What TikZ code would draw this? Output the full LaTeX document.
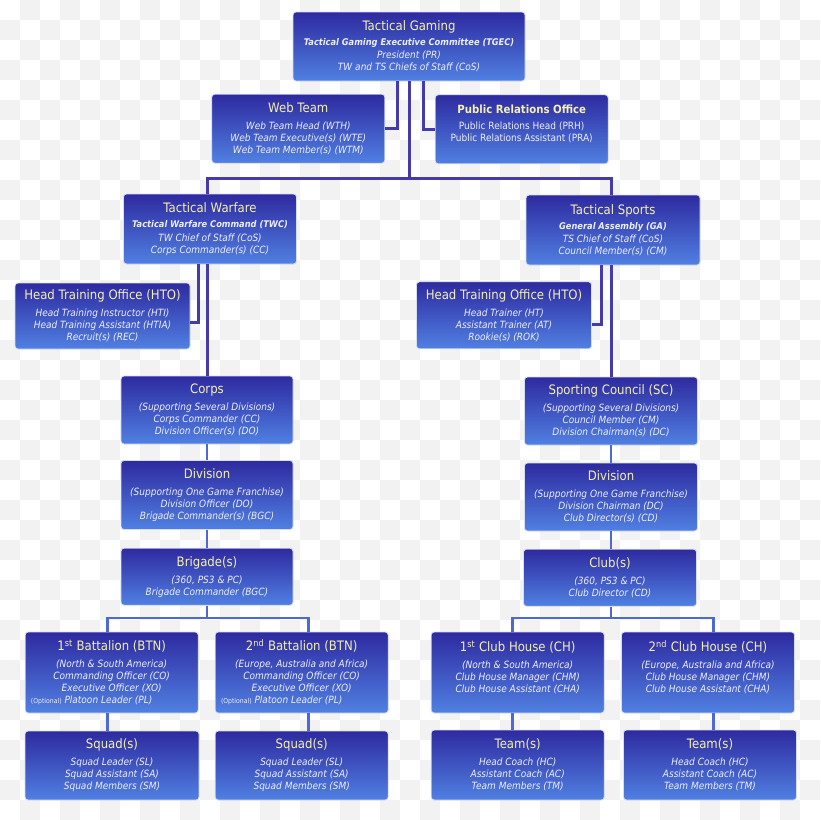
\documentclass[tikz,border=0pt]{standalone}
\usepackage{fontspec}
\setmainfont[FakeStretch=0.9]{DejaVu Sans}
\definecolor{boxtop}{RGB}{46,42,160}
\definecolor{boxbot}{RGB}{80,128,226}
\definecolor{boxedge}{RGB}{215,220,245}
\definecolor{ttlc}{RGB}{245,240,180}
\definecolor{txtc}{RGB}{238,238,250}
\definecolor{connA}{RGB}{68,58,168}
\definecolor{connB}{RGB}{78,105,210}
\definecolor{chk}{RGB}{242,242,242}
\newcommand{\ttl}[1]{{\fontsize{13}{12}\selectfont\upshape\color{ttlc}#1}}
\newcommand{\bsub}[1]{{\fontsize{9.2}{12}\selectfont\bfseries #1}}
\newcommand{\optl}{\makebox[0pt]{\kern-40pt{\fontsize{6.8}{7}\selectfont\upshape(Optional)} Platoon Leader (PL)}}
\tikzset{
  box/.style={rectangle, rounded corners=3pt, top color=boxtop, bottom color=boxbot,
    draw=boxedge, line width=0.8pt, align=center, inner sep=2pt, text=txtc,
    font=\fontsize{10}{12}\selectfont\itshape},
  connup/.style={draw=connA, line width=3pt},
  connlo/.style={draw=connB, line width=2.8pt}
}
\begin{document}
\begin{tikzpicture}[x=1pt,y=-1pt]
\useasboundingbox (0,0) rectangle (820,820);
\fill[white] (0,0) rectangle (820,820);
\foreach \i in {0,...,40}{\foreach \j in {0,...,40}{%
  \pgfmathtruncatemacro{\odd}{mod(\i+\j,2)}%
  \ifnum\odd=1 \fill[chk] (\i*20,\j*20) rectangle ++(20,20);\fi}}

% boxes
\node[box, minimum width=232pt, minimum height=69pt] (top) at (409,46.5)
  {\ttl{Tactical Gaming}\\[3pt]\bsub{Tactical Gaming Executive Committee (TGEC)}\\[1.3pt]President (PR)\\TW and TS Chiefs of Staff (CoS)};
\node[box, minimum width=173pt, minimum height=69pt] (web) at (298.3,128.7)
  {\ttl{Web Team}\\[5pt]Web Team Head (WTH)\\Web Team Executive(s) (WTE)\\Web Team Member(s) (WTM)};
\node[box, minimum width=173pt, minimum height=69pt] (pr) at (521.7,129.3)
  {{\fontsize{11.3}{12}\selectfont\upshape\bfseries\color{ttlc}Public Relations Office}\\[4pt]\upshape Public Relations Head (PRH)\\\upshape Public Relations Assistant (PRA)\\ \mbox{}};
\node[box, minimum width=173pt, minimum height=70pt] (tw) at (210,229)
  {\ttl{Tactical Warfare}\\[3pt]\bsub{Tactical Warfare Command (TWC)}\\[1.3pt]TW Chief of Staff (CoS)\\Corps Commander(s) (CC)};
\node[box, minimum width=174pt, minimum height=70pt] (ts) at (613,230)
  {\ttl{Tactical Sports}\\[3pt]\bsub{General Assembly (GA)}\\[1.3pt]TS Chief of Staff (CoS)\\Council Member(s) (CM)};
\node[box, minimum width=175pt, minimum height=66pt] (htoL) at (102.5,316)
  {\ttl{Head Training Office (HTO)}\\[5pt]Head Training Instructor (HTI)\\Head Training Assistant (HTIA)\\Recruit(s) (REC)};
\node[box, minimum width=175pt, minimum height=67pt] (htoR) at (504,315.3)
  {\ttl{Head Training Office (HTO)}\\[5pt]Head Trainer (HT)\\Assistant Trainer (AT)\\Rookie(s) (ROK)};
\node[box, minimum width=172pt, minimum height=68pt] (corps) at (207,410)
  {\ttl{Corps}\\[5pt](Supporting Several Divisions)\\Corps Commander (CC)\\Division Officer(s) (DO)};
\node[box, minimum width=172pt, minimum height=69pt] (divL) at (207,495)
  {\ttl{Division}\\[5pt](Supporting One Game Franchise)\\Division Officer (DO)\\Brigade Commander(s) (BGC)};
\node[box, minimum width=172pt, minimum height=57pt] (brig) at (207,576.7)
  {\ttl{Brigade(s)}\\[5pt](360, PS3 \& PC)\\Brigade Commander (BGC)};
\node[box, minimum width=173pt, minimum height=68pt] (sc) at (611,411)
  {\ttl{Sporting Council (SC)}\\[5pt](Supporting Several Divisions)\\Council Member (CM)\\Division Chairman(s) (DC)};
\node[box, minimum width=173pt, minimum height=68pt] (divR) at (611,497)
  {\ttl{Division}\\[5pt](Supporting One Game Franchise)\\Division Chairman (DC)\\Club Director(s) (CD)};
\node[box, minimum width=173pt, minimum height=57pt] (club) at (610,577.7)
  {\ttl{Club(s)}\\[5pt](360, PS3 \& PC)\\Club Director (CD)};
\node[box, minimum width=173pt, minimum height=81pt] (b1) at (111.7,672.5)
  {\ttl{1\textsuperscript{st} Battalion (BTN)}\\[5pt](North \& South America)\\Commanding Officer (CO)\\Executive Officer (XO)\\\optl};
\node[box, minimum width=173pt, minimum height=81pt] (b2) at (301.7,672.5)
  {\ttl{2\textsuperscript{nd} Battalion (BTN)}\\[5pt](Europe, Australia and Africa)\\Commanding Officer (CO)\\Executive Officer (XO)\\\optl};
\node[box, minimum width=173pt, minimum height=81pt] (ch1) at (517.7,672.5)
  {\ttl{1\textsuperscript{st} Club House (CH)}\\[5pt](North \& South America)\\Club House Manager (CHM)\\Club House Assistant (CHA)\\ \mbox{}};
\node[box, minimum width=173pt, minimum height=81pt] (ch2) at (708,672.5)
  {\ttl{2\textsuperscript{nd} Club House (CH)}\\[5pt](Europe, Australia and Africa)\\Club House Manager (CHM)\\Club House Assistant (CHA)\\ \mbox{}};
\node[box, minimum width=174pt, minimum height=69pt] (s1) at (112,765.5)
  {\ttl{Squad(s)}\\[5pt]Squad Leader (SL)\\Squad Assistant (SA)\\Squad Members (SM)};
\node[box, minimum width=173pt, minimum height=69pt] (s2) at (301.7,765.5)
  {\ttl{Squad(s)}\\[5pt]Squad Leader (SL)\\Squad Assistant (SA)\\Squad Members (SM)};
\node[box, minimum width=173pt, minimum height=70pt] (t1) at (517.7,765)
  {\ttl{Team(s)}\\[5pt]Head Coach (HC)\\Assistant Coach (AC)\\Team Members (TM)};
\node[box, minimum width=173pt, minimum height=70pt] (t2) at (710,765)
  {\ttl{Team(s)}\\[5pt]Head Coach (HC)\\Assistant Coach (AC)\\Team Members (TM)};

% connector coordinates
\coordinate (w1) at (397,128.7);
\coordinate (p1) at (423,129.3);
\coordinate (br) at (409,178);
\coordinate (twx) at (207,178);
\coordinate (tsx) at (611,178);
\coordinate (c1) at (198,322);
\coordinate (c2) at (601,324);
\coordinate (jL) at (207,618);
\coordinate (jR) at (611,618);
\coordinate (d1) at (107.3,618);
\coordinate (d2) at (308.3,618);
\coordinate (d3) at (512.3,618);
\coordinate (d4) at (713.3,618);

% upper connectors
\draw[connup] (w1 |- top.south) -- (w1) -- (web.east);
\draw[connup] (p1 |- top.south) -- (p1) -- (pr.west);
\draw[connup] (top.south) -- (br);
\draw[connup] (twx |- tw.north) -- (twx) -- (tsx) -- (tsx |- ts.north);
\draw[connup] (c1 |- tw.south) -- (c1) -- (c1 -| htoL.east);
\draw[connup] (c2 |- ts.south) -- (c2) -- (c2 -| htoR.east);
\draw[connup] (corps.north |- tw.south) -- (corps.north);
\draw[connup] (sc.north |- ts.south) -- (sc.north);

% lower connectors
\draw[connlo] (corps.south) -- (divL.north);
\draw[connlo] (divL.south) -- (brig.north);
\draw[connlo] (divR.north -| sc.south) -- (sc.south);
\draw[connlo] (divR.south) -- (divR.south |- club.north);
\draw[connlo] (brig.south) -- (jL);
\draw[connlo] (jR |- club.south) -- (jR);
\draw[connlo] (d1 |- b1.north) -- (d1) -- (d2) -- (d2 |- b2.north);
\draw[connlo] (d3 |- ch1.north) -- (d3) -- (d4) -- (d4 |- ch2.north);
\draw[connlo] (d1 |- b1.south) -- (d1 |- s1.north);
\draw[connlo] (d2 |- b2.south) -- (d2 |- s2.north);
\draw[connlo] (d3 |- ch1.south) -- (d3 |- t1.north);
\draw[connlo] (d4 |- ch2.south) -- (d4 |- t2.north);
\end{tikzpicture}
\end{document}
